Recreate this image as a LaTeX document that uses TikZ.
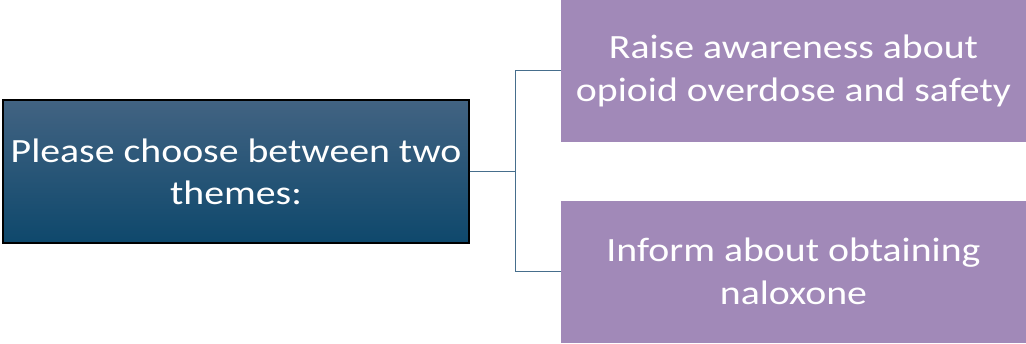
\documentclass[tikz,border=0pt]{standalone}
\usepackage{fontspec}
\setmainfont{Carlito}[FakeStretch=1.17]
\definecolor{themetop}{RGB}{66,99,130}
\definecolor{themebot}{RGB}{14,72,108}
\definecolor{choicefill}{RGB}{161,137,184}
\definecolor{linkcol}{RGB}{70,110,140}
\begin{document}
\begin{tikzpicture}[x=1pt,y=1pt,
                    lbox/.style = {shape = rectangle,
                                   draw = black,
                                   line width = 1.2pt,
                                   top color = themetop,
                                   bottom color = themebot,
                                   text = white,
                                   align = center,
                                   inner sep = 0pt,
                                   minimum width = 466pt,
                                   minimum height = 143pt,
                                   font = \fontsize{34}{42}\selectfont},
                    rbox/.style = {shape = rectangle,
                                   fill = choicefill,
                                   text = white,
                                   align = center,
                                   inner sep = 0pt,
                                   minimum width = 465pt,
                                   minimum height = 142pt,
                                   font = \fontsize{34}{43}\selectfont},
                    link/.style = {draw = linkcol, line width = 1pt}]
		\useasboundingbox (0,0) rectangle (1026,-343);
		\node[lbox] (theme) at (236,-171.5) {Please choose between two\\themes:};
		\node[rbox] (aware) at (793.5,-70.5) {Raise awareness about\\opioid overdose and safety};
		\node[rbox] (nalox) at (793.5,-271.5) {Inform about obtaining\\naloxone};
		\coordinate (split) at (515,-171.5);
		\path[link] (theme.east) -- (split);
		\path[link] (split) |- (aware.west);
		\path[link] (split) |- (nalox.west);
	\end{tikzpicture}
\end{document}
